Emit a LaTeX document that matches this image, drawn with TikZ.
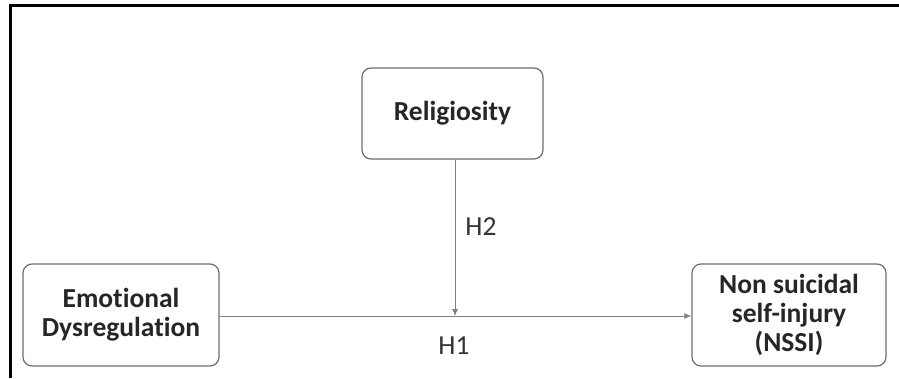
\documentclass[tikz,border=0pt]{standalone}
\usepackage{fontspec}
\setmainfont[Ligatures={NoCommon}]{Carlito}
\usetikzlibrary{arrows.meta}
\definecolor{boxline}{HTML}{6E6E6E}
\definecolor{conn}{HTML}{808080}
\tikzset{
  varbox/.style={draw=boxline, line width=1.2pt, rounded corners=9pt, fill=white,
    font=\fontsize{27.5}{29}\selectfont\bfseries, align=center, inner sep=0pt, text=black!85},
  link/.style={draw=conn, line width=0.9pt},
  hlabel/.style={font=\fontsize{27.5}{29}\selectfont, text=black!80, inner sep=0pt},
  frameline/.style={line width=2.2pt, black}
}
\begin{document}
\begin{tikzpicture}[x=1pt,y=-1pt]
\useasboundingbox (0,0) rectangle (899,378);
\draw[frameline] (10.5,378) -- (10.5,5.5) -- (899,5.5);
\node[varbox, minimum width=181pt, minimum height=91pt] (rel) at (452.5,113.5) {Religiosity};
\node[varbox, minimum width=196pt, minimum height=102pt] (emo) at (121,315) {Emotional\\Dysregulation};
\node[varbox, minimum width=194pt, minimum height=102pt] (nssi) at (789,315) {Non suicidal\\self-injury\\(NSSI)};
\coordinate (mid) at (455,316);
\draw[link, -{Latex[length=7pt,width=6pt]}] (emo.east |- mid) -- (nssi.west |- mid);
\draw[link, -{Latex[length=7pt,width=6pt]}] (rel.south -| mid) -- (mid);
\node[hlabel] (h2) at (481,227) {H2};
\node[hlabel] (h1) at (454,346) {H1};
\end{tikzpicture}
\end{document}
